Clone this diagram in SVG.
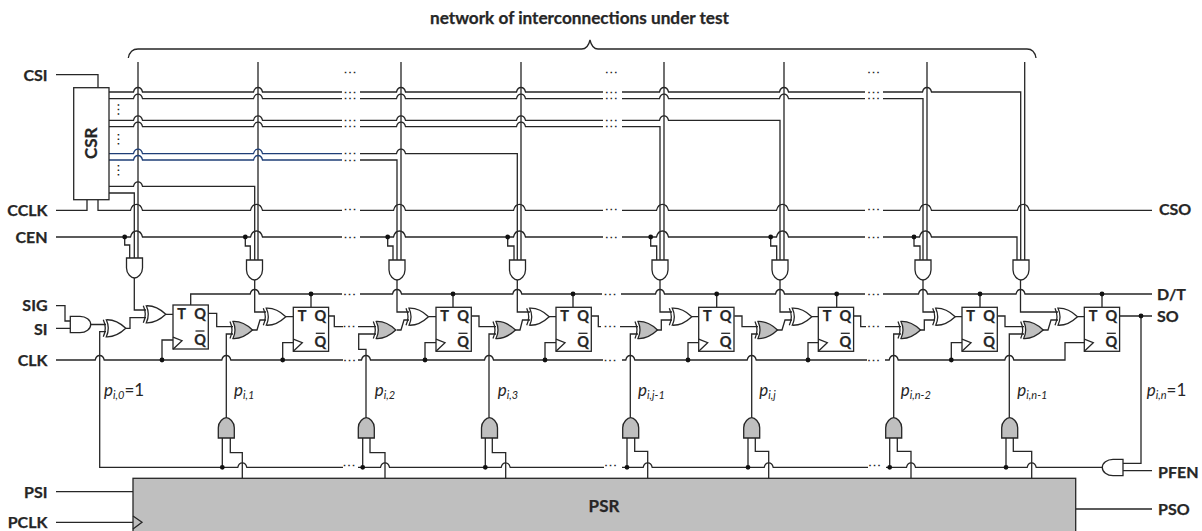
<svg xmlns="http://www.w3.org/2000/svg" width="1202" height="531" viewBox="0 0 1202 531">
<style>
text{font-family:"Lato","Open Sans","Liberation Sans",sans-serif;fill:#262626}
.l{font-weight:700;font-size:16px;stroke:#262626;stroke-width:.25}
.e{text-anchor:end}
.f{font-weight:700;font-size:14.5px;text-anchor:middle;stroke:#262626;stroke-width:.25}
.p{font-size:17px;font-style:italic}
.s{font-size:11px}
.n{font-size:17px;font-style:normal}
.d{font-family:"Liberation Sans",sans-serif;font-weight:700;font-size:5.5px;letter-spacing:3px;text-anchor:middle;stroke:#262626;stroke-width:.6}
.w{fill:none;stroke:#262626;stroke-width:1.3}
.b{fill:none;stroke:#1f3f77;stroke-width:1.3}
.g{fill:#fff;stroke:#262626;stroke-width:1.3}
.y{fill:#bfbfbf;stroke:#262626;stroke-width:1.3}
.o{fill:#111;stroke:none}
</style>
<defs>
<g id="xor"><path d="M3 -8.500Q13 -9 22.500 0Q13 9 3 8.500Q7 0 3 -8.500Z"/><path d="M0 -8.500Q4 0 0 8.500" fill="none"/></g>
<path id="andd" d="M0 0H16V10C16 16 11 20 8 20C5 20 0 16 0 10Z"/>
<path id="andu" d="M0 20.300H16V10C16 4 11 0 8 0C5 0 0 4 0 10Z"/>
<polyline id="clk" points="0,-3.500 9,0 0,8.500" fill="none"/>
</defs>
<g id="connectors">
<path class="w" d="M128.300 58Q130 49 138 49H581.700Q588 49 590 40Q592 49 598 49H1027Q1034.500 49 1036 58"/>
<path class="w" d="M138 62V258M258 62V260M401 62V260M521 62V260M664 62V260M784 62V260M927 62V260M1024.700 62V260"/>
<path class="w" d="M56 74.700H98V87.700M56 210.300H87V199.700"/>
<path class="w" d="M109 92H133.500q1 -4.500 4.500 -4.500q3.500 0 4.500 4.500H253.500q1 -4.500 4.500 -4.500q3.500 0 4.500 4.500H342M360 92H396.500q1 -4.500 4.500 -4.500q3.500 0 4.500 4.500H516.500q1 -4.500 4.500 -4.500q3.500 0 4.500 4.500H603M622 92H659.500q1 -4.500 4.500 -4.500q3.500 0 4.500 4.500H779.500q1 -4.500 4.500 -4.500q3.500 0 4.500 4.500H865M883 92H922.500q1 -4.500 4.500 -4.500q3.500 0 4.500 4.500H1020.700V260"/>
<path class="w" d="M109 98.700H133.500q1 -4.500 4.500 -4.500q3.500 0 4.500 4.500H253.500q1 -4.500 4.500 -4.500q3.500 0 4.500 4.500H342M360 98.700H396.500q1 -4.500 4.500 -4.500q3.500 0 4.500 4.500H516.500q1 -4.500 4.500 -4.500q3.500 0 4.500 4.500H603M622 98.700H659.500q1 -4.500 4.500 -4.500q3.500 0 4.500 4.500H779.500q1 -4.500 4.500 -4.500q3.500 0 4.500 4.500H865M883 98.700H923V260"/>
<path class="w" d="M109 120.300H133.500q1 -4.500 4.500 -4.500q3.500 0 4.500 4.500H253.500q1 -4.500 4.500 -4.500q3.500 0 4.500 4.500H342M360 120.300H396.500q1 -4.500 4.500 -4.500q3.500 0 4.500 4.500H516.500q1 -4.500 4.500 -4.500q3.500 0 4.500 4.500H603M622 120.300H659.500q1 -4.500 4.500 -4.500q3.500 0 4.500 4.500H780V260"/>
<path class="w" d="M109 126.700H133.500q1 -4.500 4.500 -4.500q3.500 0 4.500 4.500H253.500q1 -4.500 4.500 -4.500q3.500 0 4.500 4.500H342M360 126.700H396.500q1 -4.500 4.500 -4.500q3.500 0 4.500 4.500H516.500q1 -4.500 4.500 -4.500q3.500 0 4.500 4.500H603M622 126.700H660V260"/>
<path class="b" d="M109 153.700H133.500q1 -4.500 4.500 -4.500q3.500 0 4.500 4.500H253.500q1 -4.500 4.500 -4.500q3.500 0 4.500 4.500H342"/>
<path class="b" d="M109 160H133.500q1 -4.500 4.500 -4.500q3.500 0 4.500 4.500H253.500q1 -4.500 4.500 -4.500q3.500 0 4.500 4.500H342"/>
<path class="w" d="M360 153.700H396.500q1 -4.500 4.500 -4.500q3.500 0 4.500 4.500H517.300V260M360 160H397V260"/>
<path class="w" d="M109 186.300H133.500q1 -4.500 4.500 -4.500q3.500 0 4.500 4.500H254.700V260M109 193H134.300V258"/>
<path class="w" d="M98 199.700V210.300H130.500q1.500 -6 6 -6q4.500 0 6 6H250.500q1.500 -6 6 -6q4.500 0 6 6H342M360 210.300H393.500q1.500 -6 6 -6q4.500 0 6 6H513.500q1.500 -6 6 -6q4.500 0 6 6H603M622 210.300H656.500q1.500 -6 6 -6q4.500 0 6 6H776.500q1.500 -6 6 -6q4.500 0 6 6H865M883 210.300H919.500q1.500 -6 6 -6q4.500 0 6 6H1017.300q1.500 -6 6 -6q4.500 0 6 6H1152"/>
<path class="w" d="M56 237H130.500q1.500 -6 6 -6q4.500 0 6 6H250.500q1.500 -6 6 -6q4.500 0 6 6H342M360 237H393.500q1.500 -6 6 -6q4.500 0 6 6H513.500q1.500 -6 6 -6q4.500 0 6 6H603M622 237H656.500q1.500 -6 6 -6q4.500 0 6 6H776.500q1.500 -6 6 -6q4.500 0 6 6H865M883 237H919.500q1.500 -6 6 -6q4.500 0 6 6H1017V260"/>
<path class="w" d="M124.700 237V245H129.700V258M245.300 237V246H250.300V260M387.700 237V246H393V260M507.700 237V246H514V260M650.700 237V246H656.700V260M770.700 237V246H776.700V260M914 237V246H920V260"/>
<path class="w" d="M190.700 305V294H250.200q1 -4.500 4.500 -4.500q3.500 0 4.500 4.500H342M360 294H392.500q1 -4.500 4.500 -4.500q3.500 0 4.500 4.500H512.800q1 -4.500 4.500 -4.500q3.500 0 4.500 4.500H602M621 294H655.500q1 -4.500 4.500 -4.500q3.500 0 4.500 4.500H775.500q1 -4.500 4.500 -4.500q3.500 0 4.500 4.500H865M883 294H918.500q1 -4.500 4.500 -4.500q3.500 0 4.500 4.500H1016q1 -4.500 4.500 -4.500q3.500 0 4.500 4.500H1152"/>
<path class="w" d="M311 294V307.300M453 294V307.300M573 294V307.300M716.700 294V307.300M836.700 294V307.300M980 294V307.300M1102 294V307.300"/>
<path class="w" d="M56 360H95.200q1 -4.500 4.500 -4.500q3.500 0 4.500 4.500H221.800q1 -4.500 4.500 -4.500q3.500 0 4.500 4.500H343M358 360H361.500q1 -4.500 4.500 -4.500q3.500 0 4.500 4.500H484.500q1 -4.500 4.500 -4.500q3.500 0 4.500 4.500H603M622 360H625.800q1 -4.500 4.500 -4.500q3.500 0 4.500 4.500H747.200q1 -4.500 4.500 -4.500q3.500 0 4.500 4.500H867M885 360H889.200q1 -4.500 4.500 -4.500q3.500 0 4.500 4.500H1004.800q1 -4.500 4.500 -4.500q3.500 0 4.500 4.500H1065V342.700H1084.300"/>
<path class="w" d="M162 360V340H173M282.700 360V342.700H293.300M425 360V342.700H436M545 360V342.700H556M688 360V342.700H698.700M808 360V342.700H818.300M951.300 360V342.700H962"/>
<path class="w" d="M106 331.700H99.700V467.300H237.800q1 -4.500 4.500 -4.500q3.500 0 4.500 4.500H343M358 467.300H380.500q1 -4.500 4.500 -4.500q3.500 0 4.500 4.500H501.200q1 -4.500 4.500 -4.500q3.500 0 4.500 4.500H604M622 467.300H643.200q1 -4.500 4.500 -4.500q3.500 0 4.500 4.500H764.200q1 -4.500 4.500 -4.500q3.500 0 4.500 4.500H868M886 467.300H906.500q1 -4.500 4.500 -4.500q3.500 0 4.500 4.500H1027.200q1 -4.500 4.500 -4.500q3.500 0 4.500 4.500H1102.300"/>
<path class="w" d="M56 305.700H65V321H70.300M56 328.300H70.300M90.700 324.500H106M126 328.300H130V317.700H146M134.300 278V310H146M166 314.300H173"/>
<path class="w" d="M254.700 280V312H266M397 280V312H409M517.300 280V312H530M660 280V312H672M780 280V312H792M923 280V312H935M1020.500 280V312H1058"/>
<path class="w" d="M286 316.700H293.300M428.700 316.700H436M549 316.700H556M692 316.700H698.700M811.700 316.700H818.300M955 316.700H962M1077.300 316.700H1084.300"/>
<path class="w" d="M208.300 313.300H216.700V326.700H233M328.300 316H334.300V326.700H343M358 326.700H376M471.300 316H479V326.700H496M591.300 316H598.300V326.700H601M620 326.700H638M734.300 316H742V326.700H758M854 316H860.700V326.700H866M885 326.700H901M997.700 316H1005V326.700H1024"/>
<path class="w" d="M252 330H257L260 320H266M396.700 330H401L404 320H409M515 330H520L522.500 320H530M656 330H661.300V320H672M777 330H782L785 320H792M919 330H924.300V320H935M1043 330H1048L1051 320H1058"/>
<path class="w" d="M226.300 417.700V334H233M366 417.700V349.300H358.700V334H376M489 417.700V334H496M630.300 417.700V334H638M751.700 417.700V334H758M893.700 417.700V334H901M1009.300 417.700V334H1024"/>
<path class="w" d="M222.300 438V467.300M230.300 438V452.700H242.300V478.300M362.700 438V467.300M370 438V452.700H385V478.300M485.300 438V467.300M492.300 438V452.700H505.700V478.300M627 438V467.300M634.700 438V451.300H647.700V478.300M748 438V467.300M755.300 438V451.300H768.700V478.300M889.700 438V467.300M897.300 438V451.300H911V478.300M1006 438V467.300M1013.300 438V451.300H1031.700V478.300"/>
<path class="w" d="M1119.300 316H1152M1141 316V463.300H1123M1123 470.700H1152M56 491.700H133M56 522.300H133M1075.700 509H1152"/>
<circle class="o" cx="124.700" cy="237" r="2.400"/><circle class="o" cx="245.300" cy="237" r="2.400"/><circle class="o" cx="387.700" cy="237" r="2.400"/><circle class="o" cx="507.700" cy="237" r="2.400"/><circle class="o" cx="650.700" cy="237" r="2.400"/><circle class="o" cx="770.700" cy="237" r="2.400"/><circle class="o" cx="914" cy="237" r="2.400"/>
<circle class="o" cx="311" cy="294" r="2.400"/><circle class="o" cx="453" cy="294" r="2.400"/><circle class="o" cx="573" cy="294" r="2.400"/><circle class="o" cx="716.700" cy="294" r="2.400"/><circle class="o" cx="836.700" cy="294" r="2.400"/><circle class="o" cx="980" cy="294" r="2.400"/><circle class="o" cx="1102" cy="294" r="2.400"/>
<circle class="o" cx="162" cy="360" r="2.400"/><circle class="o" cx="282.700" cy="360" r="2.400"/><circle class="o" cx="425" cy="360" r="2.400"/><circle class="o" cx="545" cy="360" r="2.400"/><circle class="o" cx="688" cy="360" r="2.400"/><circle class="o" cx="808" cy="360" r="2.400"/><circle class="o" cx="951.300" cy="360" r="2.400"/>
<circle class="o" cx="222.300" cy="467.300" r="2.400"/><circle class="o" cx="362.700" cy="467.300" r="2.400"/><circle class="o" cx="485.300" cy="467.300" r="2.400"/><circle class="o" cx="627" cy="467.300" r="2.400"/><circle class="o" cx="748" cy="467.300" r="2.400"/><circle class="o" cx="889.700" cy="467.300" r="2.400"/><circle class="o" cx="1006" cy="467.300" r="2.400"/><circle class="o" cx="1141" cy="316" r="2.400"/>
</g>
<g id="csr"><rect class="g" x="73.700" y="87.700" width="35.300" height="112"/><text class="l" text-anchor="middle" style="font-size:17px" transform="translate(97 143.300) rotate(-90)">CSR</text></g>
<g id="psr"><rect class="y" x="133" y="478.300" width="942.700" height="60"/><polyline class="w" points="133,516 142,522.300 133,529"/><text class="l" x="604" y="512.300" text-anchor="middle" style="font-size:17px">PSR</text></g>
<g id="and-c1"><use class="g" href="#andd" x="126.500" y="258"/></g>
<g id="and-c2"><use class="g" href="#andd" x="246.500" y="260"/></g>
<g id="and-c3"><use class="g" href="#andd" x="389" y="260"/></g>
<g id="and-c4"><use class="g" href="#andd" x="509.500" y="260"/></g>
<g id="and-c5"><use class="g" href="#andd" x="652" y="260"/></g>
<g id="and-c6"><use class="g" href="#andd" x="772" y="260"/></g>
<g id="and-c7"><use class="g" href="#andd" x="915" y="260"/></g>
<g id="and-c8"><use class="g" href="#andd" x="1013" y="260"/></g>
<g id="and-p1"><use class="y" href="#andu" x="218.300" y="417.700"/></g>
<g id="and-p2"><use class="y" href="#andu" x="358.300" y="417.700"/></g>
<g id="and-p3"><use class="y" href="#andu" x="481.500" y="417.700"/></g>
<g id="and-p4"><use class="y" href="#andu" x="622.700" y="417.700"/></g>
<g id="and-p5"><use class="y" href="#andu" x="743.700" y="417.700"/></g>
<g id="and-p6"><use class="y" href="#andu" x="885.700" y="417.700"/></g>
<g id="and-p7"><use class="y" href="#andu" x="1001.700" y="417.700"/></g>
<g id="and-sig"><path class="g" d="M70.300 316.300H80C86 316.300 90.700 320 90.700 324.500C90.700 329 86 332.700 80 332.700H70.300Z"/></g>
<g id="and-pfen"><path class="g" d="M1123 459.300H1113C1107 459.300 1102.300 463 1102.300 467.500C1102.300 472 1107 475.700 1113 475.700H1123Z"/></g>
<g id="xor-w0"><use class="g" href="#xor" x="103.300" y="328.300"/></g>
<g id="xor-w1"><use class="g" href="#xor" x="143.300" y="314.300"/></g>
<g id="xor-w2"><use class="g" href="#xor" x="263.300" y="316.700"/></g>
<g id="xor-w3"><use class="g" href="#xor" x="406" y="316.700"/></g>
<g id="xor-w4"><use class="g" href="#xor" x="526.700" y="316.700"/></g>
<g id="xor-w5"><use class="g" href="#xor" x="669.300" y="316.700"/></g>
<g id="xor-w6"><use class="g" href="#xor" x="789.300" y="316.700"/></g>
<g id="xor-w7"><use class="g" href="#xor" x="932.700" y="316.700"/></g>
<g id="xor-w8"><use class="g" href="#xor" x="1055" y="316.700"/></g>
<g id="xor-g1"><use class="y" href="#xor" x="230" y="330"/></g>
<g id="xor-g2"><use class="y" href="#xor" x="373.300" y="330"/></g>
<g id="xor-g3"><use class="y" href="#xor" x="493" y="330"/></g>
<g id="xor-g4"><use class="y" href="#xor" x="635" y="330"/></g>
<g id="xor-g5"><use class="y" href="#xor" x="755" y="330"/></g>
<g id="xor-g6"><use class="y" href="#xor" x="898" y="330"/></g>
<g id="xor-g7"><use class="y" href="#xor" x="1020.700" y="330"/></g>
<g id="ff1" transform="translate(173 305)"><rect class="g" width="35.300" height="44"/><use class="w" href="#clk" y="35.700"/><text class="f" x="8.700" y="13.500">T</text><text class="f" x="27" y="14">Q</text><text class="f" x="27" y="39.500">Q</text><path class="w" d="M22.500 26H31.500"/></g>
<g id="ff2" transform="translate(293.300 307.300)"><rect class="g" width="35.300" height="44"/><use class="w" href="#clk" y="35.400"/><text class="f" x="8.700" y="13.500">T</text><text class="f" x="27" y="14">Q</text><text class="f" x="27" y="39.500">Q</text><path class="w" d="M22.500 26H31.500"/></g>
<g id="ff3" transform="translate(436 307.300)"><rect class="g" width="35.300" height="44"/><use class="w" href="#clk" y="35.400"/><text class="f" x="8.700" y="13.500">T</text><text class="f" x="27" y="14">Q</text><text class="f" x="27" y="39.500">Q</text><path class="w" d="M22.500 26H31.500"/></g>
<g id="ff4" transform="translate(556 307.300)"><rect class="g" width="35.300" height="44"/><use class="w" href="#clk" y="35.400"/><text class="f" x="8.700" y="13.500">T</text><text class="f" x="27" y="14">Q</text><text class="f" x="27" y="39.500">Q</text><path class="w" d="M22.500 26H31.500"/></g>
<g id="ff5" transform="translate(698.700 307.300)"><rect class="g" width="35.300" height="44"/><use class="w" href="#clk" y="35.400"/><text class="f" x="8.700" y="13.500">T</text><text class="f" x="27" y="14">Q</text><text class="f" x="27" y="39.500">Q</text><path class="w" d="M22.500 26H31.500"/></g>
<g id="ff6" transform="translate(818.300 307.300)"><rect class="g" width="35.300" height="44"/><use class="w" href="#clk" y="35.400"/><text class="f" x="8.700" y="13.500">T</text><text class="f" x="27" y="14">Q</text><text class="f" x="27" y="39.500">Q</text><path class="w" d="M22.500 26H31.500"/></g>
<g id="ff7" transform="translate(962 307.300)"><rect class="g" width="35.300" height="44"/><use class="w" href="#clk" y="35.400"/><text class="f" x="8.700" y="13.500">T</text><text class="f" x="27" y="14">Q</text><text class="f" x="27" y="39.500">Q</text><path class="w" d="M22.500 26H31.500"/></g>
<g id="ff8" transform="translate(1084.300 307.300)"><rect class="g" width="35.300" height="44"/><use class="w" href="#clk" y="35.400"/><text class="f" x="8.700" y="13.500">T</text><text class="f" x="27" y="14">Q</text><text class="f" x="27" y="39.500">Q</text><path class="w" d="M22.500 26H31.500"/></g>
<g id="labels">
<text class="l" x="430" y="23.500" textLength="299" lengthAdjust="spacingAndGlyphs" style="font-size:16.500px">network of interconnections under test</text>
<text class="l e" x="47.500" y="80.500">CSI</text>
<text class="l e" x="47.500" y="216">CCLK</text>
<text class="l e" x="47.500" y="242.500">CEN</text>
<text class="l e" x="47.500" y="311">SIG</text>
<text class="l e" x="47.500" y="335">SI</text>
<text class="l e" x="47.500" y="366">CLK</text>
<text class="l e" x="47.500" y="497.500">PSI</text>
<text class="l e" x="47.500" y="528">PCLK</text>
<text class="l" x="1157" y="299.500">D/T</text>
<text class="l" x="1157" y="322">SO</text>
<text class="l" x="1159" y="215">CSO</text>
<text class="l" x="1158" y="477.500">PFEN</text>
<text class="l" x="1158" y="514.500">PSO</text>
<text class="p" x="104" y="396">p<tspan class="s" dy="3">i,0</tspan><tspan class="n" dy="-3">=1</tspan></text>
<text class="p" x="234" y="396">p<tspan class="s" dy="3">i,1</tspan></text>
<text class="p" x="374.700" y="396">p<tspan class="s" dy="3">i,2</tspan></text>
<text class="p" x="497.700" y="396">p<tspan class="s" dy="3">i,3</tspan></text>
<text class="p" x="638" y="396">p<tspan class="s" dy="3">i,j-1</tspan></text>
<text class="p" x="759.300" y="396">p<tspan class="s" dy="3">i,j</tspan></text>
<text class="p" x="900.700" y="396">p<tspan class="s" dy="3">i,n-2</tspan></text>
<text class="p" x="1017.300" y="396">p<tspan class="s" dy="3">i,n-1</tspan></text>
<text class="p" x="1146.700" y="396">p<tspan class="s" dy="3">i,n</tspan><tspan class="n" dy="-3">=1</tspan></text>
<text class="d" transform="translate(118 111) rotate(90)">...</text>
<text class="d" transform="translate(118 140.700) rotate(90)">...</text>
<text class="d" transform="translate(118 171.700) rotate(90)">...</text>
<text class="d" x="351.500" y="72.700">...</text><text class="d" x="612.700" y="72.700">...</text><text class="d" x="875" y="72.700">...</text>
<text class="d" x="351.500" y="92.700">...</text><text class="d" x="612.700" y="92.700">...</text><text class="d" x="875" y="92.700">...</text>
<text class="d" x="351.500" y="99.400">...</text><text class="d" x="612.700" y="99.400">...</text><text class="d" x="875" y="99.400">...</text>
<text class="d" x="351.500" y="121">...</text><text class="d" x="612.700" y="121">...</text>
<text class="d" x="351.500" y="127.400">...</text><text class="d" x="612.700" y="127.400">...</text>
<text class="d" x="351.500" y="154.400">...</text><text class="d" x="351.500" y="160.800">...</text>
<text class="d" x="351.500" y="210.300">...</text><text class="d" x="612.700" y="210.300">...</text><text class="d" x="875" y="210.300">...</text>
<text class="d" x="351.500" y="237.700">...</text><text class="d" x="612.700" y="237.700">...</text><text class="d" x="875" y="237.700">...</text>
<text class="d" x="351" y="294.700">...</text><text class="d" x="611.500" y="294.700">...</text><text class="d" x="875" y="294.700">...</text>
<text class="d" x="350.500" y="327.400">...</text><text class="d" x="611.500" y="327.400">...</text><text class="d" x="875" y="327.400">...</text>
<text class="d" x="351" y="360.700">...</text><text class="d" x="611.500" y="360.700">...</text><text class="d" x="875" y="360.700">...</text>
<text class="d" x="350.500" y="466.200">...</text><text class="d" x="612" y="466.200">...</text><text class="d" x="876" y="466.200">...</text>
</g>
</svg>
